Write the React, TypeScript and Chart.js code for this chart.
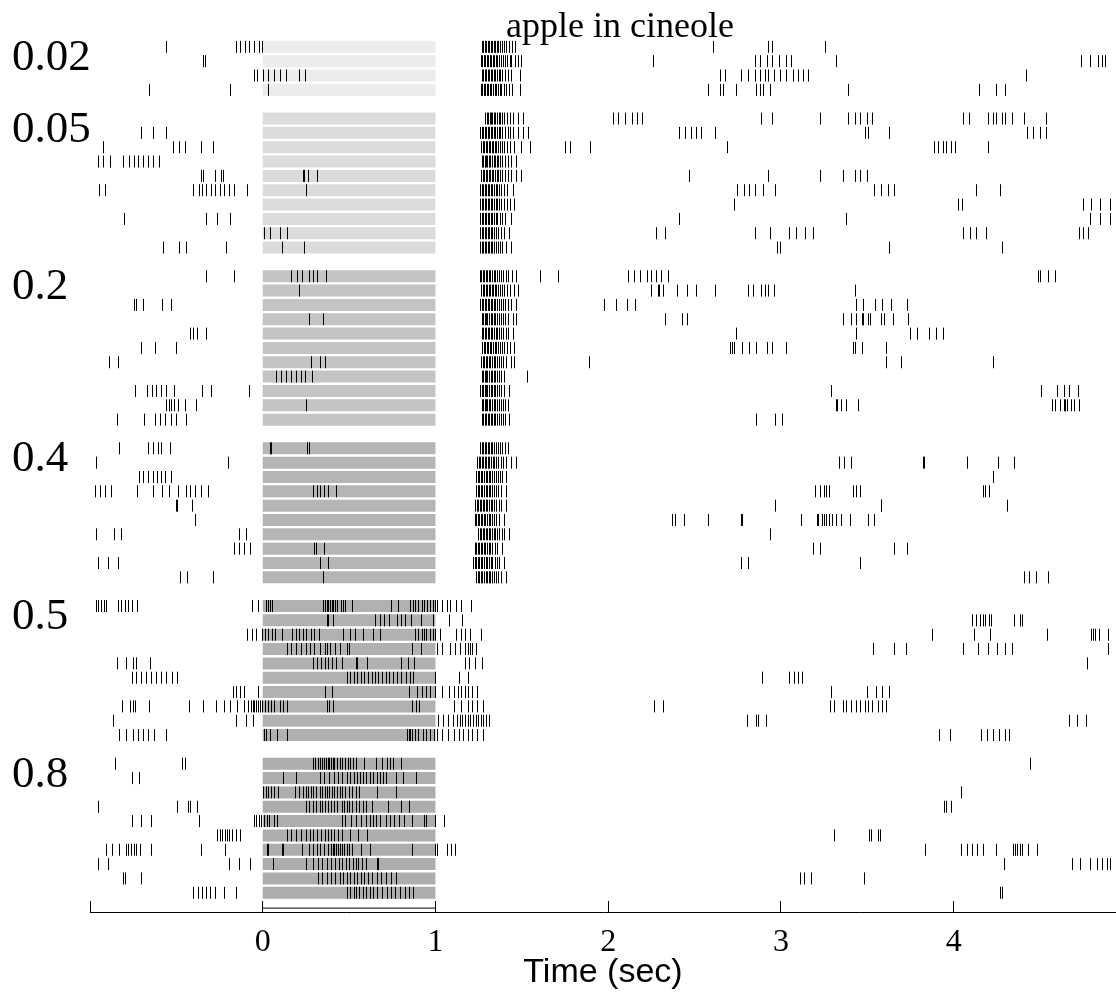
import React, { useEffect, useRef } from "react";
import { Chart, registerables } from "chart.js";

Chart.register(...registerables);

// ---------------- data ----------------
const chartTitle = "apple in cineole";
const xAxisTitle = "Time (sec)";
const concentrations = ["0.02", "0.05", "0.2", "0.4", "0.5", "0.8"];
const stimulusWindow = [0, 1];
const xTickValues = [-1, 0, 1, 2, 3, 4];
const xTickLabelled = [0, 1, 2, 3, 4];

// spike times (s) per trial, group 0.02
const spikes002: number[][] = [
  [-0.555, -0.153, -0.129, -0.102, -0.078, -0.047, -0.02, 0.0, 1.272, 1.281, 1.289, 1.298, 1.306, 1.315, 1.323, 1.332, 1.341, 1.35, 1.358, 1.367, 1.377, 1.388, 1.399, 1.412, 1.428, 1.445, 1.462, 2.61, 2.93, 2.95, 3.26],
  [-0.341, -0.331, 1.265, 1.274, 1.283, 1.291, 1.3, 1.309, 1.317, 1.326, 1.335, 1.344, 1.353, 1.362, 1.371, 1.381, 1.392, 1.404, 1.418, 1.432, 1.441, 1.462, 1.481, 1.497, 2.26, 2.85, 2.88, 2.92, 2.95, 2.99, 3.03, 3.06, 3.32, 4.74, 4.79, 4.84, 4.86, 4.88],
  [-0.05, -0.03, 0.005, 0.035, 0.067, 0.1, 0.135, 0.215, 0.25, 1.272, 1.28, 1.289, 1.297, 1.306, 1.314, 1.323, 1.331, 1.34, 1.349, 1.358, 1.368, 1.379, 1.391, 1.404, 1.421, 1.44, 1.49, 2.65, 2.68, 2.77, 2.81, 2.85, 2.88, 2.91, 2.93, 2.96, 3.0, 3.03, 3.07, 3.1, 3.13, 3.16, 4.42],
  [-0.657, -0.188, 0.035, 1.266, 1.275, 1.283, 1.292, 1.3, 1.309, 1.318, 1.327, 1.336, 1.345, 1.354, 1.364, 1.374, 1.385, 1.397, 1.41, 1.426, 1.448, 1.49, 2.58, 2.65, 2.67, 2.74, 2.86, 2.88, 2.9, 2.94, 3.39, 4.15, 4.25, 4.3],
];

// group 0.05
const spikes005: number[][] = [
  [1.29, 1.299, 1.307, 1.316, 1.324, 1.333, 1.341, 1.35, 1.359, 1.368, 1.378, 1.389, 1.401, 1.415, 1.432, 1.45, 1.478, 1.51, 2.03, 2.06, 2.1, 2.14, 2.17, 2.2, 2.89, 2.95, 3.23, 3.39, 3.43, 3.46, 3.5, 3.53, 4.06, 4.09, 4.2, 4.23, 4.25, 4.28, 4.3, 4.34, 4.41, 4.54],
  [-0.704, -0.633, -0.555, 1.262, 1.271, 1.279, 1.288, 1.296, 1.305, 1.313, 1.322, 1.331, 1.34, 1.349, 1.358, 1.368, 1.379, 1.391, 1.405, 1.42, 1.436, 1.452, 1.48, 1.51, 1.54, 2.41, 2.45, 2.48, 2.51, 2.54, 2.62, 3.49, 3.51, 3.63, 4.43, 4.46, 4.5, 4.54],
  [-0.922, -0.514, -0.48, -0.449, -0.357, -0.286, 1.268, 1.276, 1.285, 1.293, 1.302, 1.31, 1.319, 1.328, 1.337, 1.346, 1.355, 1.365, 1.376, 1.388, 1.401, 1.416, 1.434, 1.455, 1.5, 1.55, 1.75, 1.78, 1.9, 2.69, 3.89, 3.91, 3.94, 3.96, 3.99, 4.01, 4.2],
  [-0.953, -0.922, -0.882, -0.806, -0.771, -0.745, -0.718, -0.69, -0.663, -0.633, -0.596, 1.27, 1.278, 1.287, 1.295, 1.304, 1.312, 1.321, 1.33, 1.339, 1.348, 1.357, 1.367, 1.378, 1.39, 1.404, 1.42, 1.44, 1.47],
  [-0.357, -0.341, -0.276, -0.239, -0.229, 0.235, 0.24, 0.264, 0.316, 1.268, 1.277, 1.285, 1.294, 1.303, 1.311, 1.32, 1.329, 1.338, 1.347, 1.357, 1.367, 1.378, 1.39, 1.404, 1.421, 1.44, 1.47, 1.5, 2.47, 2.93, 3.23, 3.36, 3.43, 3.46, 3.5],
  [-0.943, -0.908, -0.398, -0.367, -0.347, -0.327, -0.296, -0.276, -0.245, -0.22, -0.194, -0.163, -0.086, 0.251, 1.262, 1.271, 1.279, 1.288, 1.297, 1.305, 1.314, 1.323, 1.332, 1.341, 1.351, 1.361, 1.372, 1.384, 1.398, 1.418, 1.45, 2.75, 2.79, 2.82, 2.85, 2.9, 2.97, 3.54, 3.58, 3.62, 3.66, 4.13, 4.27],
  [1.263, 1.272, 1.28, 1.289, 1.297, 1.306, 1.315, 1.324, 1.333, 1.342, 1.352, 1.362, 1.373, 1.385, 1.399, 1.415, 1.432, 1.46, 2.73, 4.03, 4.05, 4.75, 4.8, 4.85, 4.91],
  [-0.802, -0.327, -0.259, -0.188, 1.262, 1.271, 1.279, 1.288, 1.296, 1.305, 1.314, 1.323, 1.332, 1.341, 1.351, 1.362, 1.374, 1.388, 1.405, 1.44, 2.41, 3.38, 4.79, 4.85, 4.91],
  [0.01, 0.047, 0.102, 0.143, 1.262, 1.27, 1.279, 1.287, 1.296, 1.305, 1.314, 1.323, 1.333, 1.343, 1.354, 1.366, 1.38, 1.398, 1.43, 2.28, 2.33, 2.85, 2.94, 3.05, 3.09, 3.14, 3.19, 4.06, 4.1, 4.13, 4.19, 4.73, 4.75, 4.78],
  [-0.576, -0.48, -0.443, -0.208, 0.112, 0.241, 1.263, 1.272, 1.28, 1.289, 1.297, 1.306, 1.315, 1.324, 1.333, 1.343, 1.353, 1.364, 1.376, 1.39, 1.41, 1.44, 2.98, 3.0, 3.63, 4.28],
];

// group 0.2
const spikes02: number[][] = [
  [-0.327, -0.163, 0.169, 0.204, 0.231, 0.271, 0.292, 0.316, 0.367, 1.26, 1.269, 1.277, 1.286, 1.294, 1.303, 1.312, 1.321, 1.33, 1.339, 1.348, 1.358, 1.369, 1.381, 1.395, 1.41, 1.425, 1.445, 1.47, 1.61, 1.71, 2.12, 2.15, 2.19, 2.23, 2.25, 2.28, 2.31, 2.35, 4.49, 4.5, 4.55, 4.59],
  [0.21, 1.268, 1.277, 1.285, 1.294, 1.302, 1.311, 1.32, 1.329, 1.338, 1.347, 1.356, 1.366, 1.377, 1.389, 1.402, 1.418, 1.432, 1.46, 1.48, 2.25, 2.29, 2.3, 2.32, 2.4, 2.46, 2.51, 2.62, 2.81, 2.84, 2.89, 2.91, 2.93, 2.96, 3.43],
  [-0.745, -0.729, -0.69, -0.582, -0.527, 1.262, 1.27, 1.279, 1.287, 1.296, 1.305, 1.313, 1.322, 1.331, 1.34, 1.349, 1.359, 1.369, 1.38, 1.392, 1.405, 1.42, 1.44, 1.47, 1.98, 2.05, 2.11, 2.16, 3.44, 3.48, 3.55, 3.59, 3.64, 3.73],
  [0.271, 0.353, 1.27, 1.278, 1.287, 1.295, 1.304, 1.313, 1.322, 1.331, 1.34, 1.349, 1.359, 1.369, 1.38, 1.393, 1.408, 1.422, 1.45, 1.47, 2.33, 2.43, 2.46, 3.36, 3.41, 3.44, 3.47, 3.48, 3.51, 3.52, 3.58, 3.6, 3.65, 3.74],
  [-0.418, -0.398, -0.378, -0.327, 1.272, 1.28, 1.289, 1.297, 1.306, 1.315, 1.324, 1.333, 1.342, 1.351, 1.361, 1.371, 1.382, 1.395, 1.41, 1.425, 1.45, 2.74, 3.44, 3.75, 3.79, 3.86, 3.9, 3.94],
  [-0.704, -0.622, -0.5, 1.275, 1.283, 1.292, 1.3, 1.309, 1.318, 1.327, 1.336, 1.345, 1.355, 1.365, 1.376, 1.388, 1.402, 1.418, 1.432, 1.46, 2.71, 2.72, 2.73, 2.78, 2.82, 2.86, 2.92, 2.95, 3.03, 3.42, 3.43, 3.47, 3.61],
  [-0.888, -0.837, 0.282, 0.333, 0.361, 1.268, 1.277, 1.285, 1.294, 1.303, 1.312, 1.321, 1.33, 1.339, 1.349, 1.359, 1.37, 1.382, 1.396, 1.412, 1.44, 1.46, 1.89, 3.61, 3.7, 4.23],
  [0.078, 0.108, 0.139, 0.169, 0.194, 0.224, 0.245, 0.286, 1.27, 1.278, 1.287, 1.295, 1.304, 1.313, 1.322, 1.331, 1.34, 1.35, 1.36, 1.371, 1.384, 1.4, 1.53],
  [-0.735, -0.667, -0.639, -0.616, -0.588, -0.557, -0.51, -0.347, -0.296, -0.078, 1.262, 1.27, 1.279, 1.287, 1.296, 1.304, 1.313, 1.322, 1.331, 1.34, 1.349, 1.359, 1.37, 1.382, 1.398, 1.43, 3.29, 4.51, 4.6, 4.64, 4.67, 4.72],
  [-0.557, -0.541, -0.527, -0.51, -0.49, -0.449, -0.382, 0.251, 1.27, 1.278, 1.287, 1.295, 1.304, 1.312, 1.321, 1.33, 1.339, 1.348, 1.358, 1.368, 1.38, 1.394, 1.405, 1.42, 3.32, 3.33, 3.35, 3.38, 3.45, 4.57, 4.59, 4.62, 4.64, 4.65, 4.66, 4.68, 4.7, 4.73],
  [-0.843, -0.684, -0.622, -0.592, -0.561, -0.531, -0.5, -0.443, 1.272, 1.28, 1.289, 1.297, 1.306, 1.314, 1.323, 1.332, 1.341, 1.35, 1.36, 1.37, 1.381, 1.394, 1.405, 1.43, 2.86, 2.97, 3.01],
];

// group 0.4
const spikes04: number[][] = [
  [-0.831, -0.663, -0.633, -0.606, -0.586, -0.535, 0.045, 0.051, 0.262, 0.27, 1.262, 1.27, 1.279, 1.288, 1.297, 1.306, 1.315, 1.324, 1.333, 1.343, 1.353, 1.364, 1.376, 1.39, 1.405, 1.42],
  [-0.965, -0.198, 1.245, 1.254, 1.262, 1.271, 1.28, 1.288, 1.297, 1.306, 1.315, 1.324, 1.334, 1.344, 1.355, 1.367, 1.381, 1.396, 1.41, 1.44, 1.47, 3.34, 3.37, 3.41, 3.825, 3.832, 4.08, 4.26, 4.35],
  [-0.714, -0.688, -0.663, -0.633, -0.608, -0.586, -0.561, -0.527, 1.24, 1.249, 1.257, 1.266, 1.275, 1.284, 1.293, 1.302, 1.311, 1.32, 1.33, 1.34, 1.351, 1.363, 1.377, 1.39, 1.41, 4.23],
  [-0.969, -0.939, -0.908, -0.878, -0.724, -0.633, -0.578, -0.541, -0.49, -0.443, -0.418, -0.388, -0.357, -0.316, 0.292, 0.316, 0.337, 0.357, 0.378, 0.429, 1.24, 1.249, 1.257, 1.266, 1.275, 1.284, 1.293, 1.302, 1.311, 1.321, 1.331, 1.342, 1.354, 1.367, 1.38, 1.41, 3.2, 3.23, 3.25, 3.265, 3.28, 3.42, 3.44, 3.46, 4.17, 4.185, 4.21],
  [-0.5, -0.496, -0.404, 1.232, 1.241, 1.249, 1.258, 1.267, 1.276, 1.285, 1.294, 1.303, 1.312, 1.322, 1.332, 1.343, 1.355, 1.368, 1.38, 1.41, 2.97, 3.58, 3.585, 4.31],
  [-0.388, 1.23, 1.239, 1.247, 1.256, 1.265, 1.274, 1.283, 1.292, 1.301, 1.31, 1.32, 1.33, 1.341, 1.353, 1.37, 1.4, 2.37, 2.39, 2.44, 2.58, 2.77, 2.775, 3.12, 3.21, 3.22, 3.24, 3.25, 3.265, 3.28, 3.3, 3.32, 3.35, 3.4, 3.51, 3.54],
  [-0.965, -0.857, -0.816, -0.137, -0.092, 1.25, 1.259, 1.267, 1.276, 1.285, 1.294, 1.303, 1.312, 1.321, 1.33, 1.34, 1.35, 1.361, 1.373, 1.387, 1.4, 1.43, 2.94],
  [-0.163, -0.137, -0.106, -0.071, 0.3, 0.312, 0.357, 1.23, 1.239, 1.247, 1.256, 1.265, 1.274, 1.283, 1.292, 1.301, 1.311, 1.321, 1.332, 1.345, 1.36, 1.39, 3.19, 3.23, 3.66, 3.73],
  [-0.949, -0.892, -0.837, 0.333, 0.378, 1.222, 1.231, 1.239, 1.248, 1.257, 1.266, 1.275, 1.284, 1.293, 1.302, 1.312, 1.322, 1.333, 1.346, 1.36, 1.372, 1.4, 2.77, 2.81, 3.46],
  [-0.476, -0.435, -0.286, 0.353, 1.24, 1.249, 1.257, 1.266, 1.275, 1.284, 1.293, 1.302, 1.311, 1.32, 1.33, 1.34, 1.351, 1.364, 1.38, 1.41, 4.41, 4.44, 4.48, 4.55],
];

// group 0.5
const spikes05: number[][] = [
  [-0.965, -0.949, -0.933, -0.918, -0.902, -0.837, -0.816, -0.796, -0.776, -0.755, -0.724, -0.057, -0.027, 0.02, 0.035, 0.045, 0.055, 0.353, 0.363, 0.373, 0.382, 0.392, 0.402, 0.412, 0.424, 0.435, 0.455, 0.469, 0.48, 0.52, 0.745, 0.786, 0.857, 0.871, 0.884, 0.904, 0.924, 0.939, 0.953, 0.969, 0.986, 1.0, 1.014, 1.041, 1.067, 1.088, 1.122, 1.153, 1.21],
  [0.373, 0.382, 0.412, 0.653, 0.68, 0.704, 0.735, 0.782, 0.806, 0.827, 0.863, 0.918, 0.986, 1.082, 1.157, 4.109, 4.134, 4.155, 4.171, 4.186, 4.206, 4.222, 4.35, 4.387, 4.401],
  [-0.086, -0.061, -0.035, 0.0, 0.014, 0.035, 0.055, 0.076, 0.112, 0.173, 0.194, 0.214, 0.235, 0.255, 0.28, 0.3, 0.327, 0.469, 0.51, 0.537, 0.582, 0.639, 0.68, 0.884, 0.904, 0.924, 0.939, 0.949, 0.969, 0.986, 1.0, 1.031, 1.122, 1.153, 1.173, 1.204, 1.265, 3.877, 4.12, 4.212, 4.541, 4.801, 4.812, 4.822, 4.843, 4.894],
  [0.143, 0.169, 0.198, 0.224, 0.251, 0.276, 0.3, 0.333, 0.361, 0.373, 0.394, 0.422, 0.449, 0.49, 0.5, 0.867, 0.918, 1.014, 1.041, 1.088, 1.116, 1.143, 1.173, 1.19, 1.204, 1.214, 1.235, 3.534, 3.655, 3.727, 4.058, 4.144, 4.202, 4.253, 4.302, 4.339, 4.894],
  [-0.843, -0.79, -0.749, -0.729, -0.647, 0.292, 0.316, 0.341, 0.361, 0.382, 0.402, 0.429, 0.463, 0.541, 0.551, 0.606, 0.802, 0.843, 0.878, 1.173, 1.198, 1.231, 1.271, 4.777],
  [-0.755, -0.729, -0.7, -0.673, -0.643, -0.616, -0.588, -0.557, -0.524, -0.494, 0.49, 0.51, 0.531, 0.551, 0.571, 0.592, 0.612, 0.633, 0.653, 0.673, 0.694, 0.714, 0.735, 0.755, 0.782, 0.806, 0.831, 0.857, 0.871, 1.0, 1.137, 1.19, 2.895, 3.052, 3.076, 3.101, 3.127],
  [-0.167, -0.153, -0.129, -0.106, -0.027, 0.361, 0.402, 0.847, 0.898, 0.924, 0.949, 0.973, 1.0, 1.041, 1.082, 1.112, 1.133, 1.153, 1.173, 1.194, 1.214, 1.245, 3.292, 3.501, 3.555, 3.59, 3.627],
  [-0.81, -0.765, -0.749, -0.735, -0.653, -0.422, -0.341, -0.265, -0.224, -0.184, -0.147, -0.106, -0.082, -0.067, -0.055, -0.045, -0.035, -0.027, -0.014, 0.0, 0.014, 0.035, 0.051, 0.071, 0.102, 0.122, 0.143, 0.373, 0.388, 0.408, 0.867, 0.888, 0.908, 1.112, 1.153, 1.19, 1.214, 1.245, 1.28, 2.271, 2.322, 3.286, 3.312, 3.364, 3.378, 3.411, 3.436, 3.462, 3.487, 3.508, 3.528, 3.565, 3.586, 3.614],
  [-0.863, -0.149, -0.092, -0.055, 1.02, 1.047, 1.076, 1.102, 1.129, 1.143, 1.157, 1.173, 1.19, 1.204, 1.218, 1.235, 1.251, 1.265, 1.28, 1.296, 1.312, 2.805, 2.86, 2.871, 2.918, 4.668, 4.715, 4.767],
  [-0.827, -0.786, -0.749, -0.718, -0.688, -0.663, -0.627, -0.555, 0.01, 0.02, 0.047, 0.088, 0.143, 0.837, 0.847, 0.857, 0.867, 0.884, 0.904, 0.929, 0.949, 0.969, 0.994, 1.014, 1.041, 1.076, 1.108, 1.137, 1.163, 1.19, 1.214, 1.245, 1.276, 3.918, 3.98, 4.161, 4.196, 4.231, 4.268, 4.298, 4.325],
];

// group 0.8
const spikes08: number[][] = [
  [-0.851, -0.463, -0.449, 0.292, 0.306, 0.32, 0.333, 0.347, 0.357, 0.367, 0.378, 0.388, 0.398, 0.408, 0.418, 0.435, 0.449, 0.463, 0.48, 0.496, 0.51, 0.524, 0.541, 0.592, 0.659, 0.694, 0.724, 0.741, 0.755, 0.802, 4.446],
  [-0.755, -0.714, 0.122, 0.198, 0.333, 0.357, 0.388, 0.414, 0.439, 0.463, 0.49, 0.51, 0.531, 0.551, 0.565, 0.582, 0.602, 0.622, 0.643, 0.663, 0.68, 0.7, 0.714, 0.776, 0.816, 0.888],
  [0.006, 0.02, 0.035, 0.051, 0.067, 0.092, 0.19, 0.21, 0.235, 0.251, 0.265, 0.28, 0.296, 0.312, 0.333, 0.347, 0.361, 0.373, 0.388, 0.402, 0.418, 0.435, 0.449, 0.463, 0.48, 0.5, 0.52, 0.541, 0.561, 0.667, 0.776, 4.048],
  [-0.953, -0.496, -0.429, -0.418, -0.378, 0.251, 0.271, 0.296, 0.312, 0.333, 0.347, 0.361, 0.382, 0.398, 0.414, 0.435, 0.463, 0.475, 0.49, 0.504, 0.52, 0.541, 0.561, 0.582, 0.602, 0.633, 0.729, 0.806, 0.847, 3.949, 3.959, 3.99],
  [-0.755, -0.7, -0.643, -0.367, -0.047, -0.035, -0.02, -0.006, 0.01, 0.027, 0.041, 0.067, 0.088, 0.463, 0.48, 0.516, 0.541, 0.571, 0.598, 0.622, 0.639, 0.659, 0.684, 0.714, 0.741, 0.765, 0.79, 0.822, 0.867, 0.939, 0.949, 1.0, 1.051],
  [-0.259, -0.245, -0.231, -0.218, -0.204, -0.19, -0.173, -0.153, -0.129, 0.143, 0.169, 0.194, 0.224, 0.251, 0.276, 0.296, 0.316, 0.341, 0.361, 0.378, 0.398, 0.418, 0.439, 0.463, 0.51, 0.557, 0.606, 3.312, 3.512, 3.524, 3.565, 3.579],
  [-0.904, -0.867, -0.827, -0.79, -0.776, -0.761, -0.745, -0.729, -0.708, -0.643, -0.357, -0.214, 0.027, 0.035, 0.112, 0.122, 0.231, 0.271, 0.292, 0.316, 0.337, 0.357, 0.378, 0.398, 0.408, 0.418, 0.429, 0.439, 0.449, 0.459, 0.475, 0.49, 0.504, 0.52, 0.571, 0.622, 0.867, 1.0, 1.014, 1.067, 1.092, 1.118, 3.836, 4.048, 4.079, 4.109, 4.138, 4.171, 4.251, 4.345, 4.36, 4.37, 4.387, 4.401, 4.432, 4.483],
  [-0.953, -0.892, -0.194, -0.137, -0.071, 0.061, 0.251, 0.296, 0.32, 0.347, 0.373, 0.398, 0.422, 0.443, 0.463, 0.484, 0.504, 0.524, 0.541, 0.557, 0.578, 0.602, 0.663, 0.673, 4.294, 4.689, 4.736, 4.791, 4.832, 4.863, 4.89, 4.91],
  [-0.806, -0.796, -0.704, 0.32, 0.347, 0.373, 0.398, 0.422, 0.449, 0.469, 0.49, 0.51, 0.531, 0.551, 0.571, 0.592, 0.612, 0.633, 0.663, 0.688, 0.714, 0.745, 0.776, 3.111, 3.138, 3.179, 3.483],
  [-0.398, -0.373, -0.351, -0.327, -0.3, -0.276, -0.224, -0.153, 0.49, 0.51, 0.531, 0.541, 0.561, 0.582, 0.602, 0.622, 0.643, 0.667, 0.694, 0.72, 0.745, 0.769, 0.796, 0.827, 0.851, 0.871, 4.274, 4.282],
];

// ---------------- styles / layout ----------------
const barColors = ["#ececec", "#dbdbdb", "#c4c4c4", "#b5b5b5", "#b1b1b1", "#adadad"];
const SERIF = "'Liberation Serif', 'Times New Roman', serif";
const SANS = "'Liberation Sans', Arial, sans-serif";

export default function App() {
  const ref = useRef<HTMLCanvasElement>(null);

  useEffect(() => {
    const groups = [spikes002, spikes005, spikes02, spikes04, spikes05, spikes08];
    const groupStart: number[] = [];
    let r = 0;
    groups.forEach((g) => {
      groupStart.push(r);
      r += g.length + 1;
    });
    const lastRow = r - 2;

    const spikePoints: { x: number; y: number }[] = [];
    groups.forEach((g, gi) =>
      g.forEach((trial, ti) =>
        trial.forEach((t) => spikePoints.push({ x: t, y: groupStart[gi] + ti }))
      )
    );

    const barDatasets = groups.map((g, gi) => ({
      type: "line" as const,
      data: g.flatMap((_, ti) => [
        { x: stimulusWindow[0], y: groupStart[gi] + ti },
        { x: stimulusWindow[1], y: groupStart[gi] + ti },
        { x: stimulusWindow[1], y: null as any },
      ]),
      borderColor: barColors[gi],
      borderWidth: 12,
      borderCapStyle: "butt" as const,
      pointRadius: 0,
      spanGaps: false,
      fill: false,
      tension: 0,
      order: 2,
    }));

    const stimY = lastRow + 1.07;

    const overlayTitle = {
      id: "overlayTitle",
      afterDraw(chart: any) {
        const ctx = chart.ctx;
        ctx.save();
        ctx.font = `36px ${SERIF}`;
        ctx.fillStyle = "#000";
        ctx.textAlign = "center";
        ctx.textBaseline = "alphabetic";
        ctx.fillText(chartTitle, 620, 37);
        ctx.restore();
      },
    };

    // snap spike ticks to the pixel grid so 1px lines render crisp
    const crispSpikes = {
      id: "crispSpikes",
      beforeDatasetsDraw(chart: any) {
        const meta = chart.getDatasetMeta(0);
        meta.data.forEach((el: any) => {
          el.x = Math.round(el.x - 0.5) + 0.5;
        });
      },
    };

    const chart = new Chart(ref.current!, {
      type: "scatter",
      data: {
        datasets: [
          {
            type: "scatter",
            data: spikePoints,
            pointStyle: "line",
            rotation: 90,
            pointRadius: 6,
            pointBorderWidth: 1,
            pointBorderColor: "#000",
            pointBackgroundColor: "#000",
            order: 0,
          } as any,
          ...barDatasets,
          {
            type: "line",
            data: [
              { x: stimulusWindow[0], y: stimY },
              { x: stimulusWindow[1], y: stimY },
            ],
            borderColor: "#000",
            borderWidth: 1,
            pointRadius: 0,
            order: 1,
          },
        ],
      },
      options: {
        animation: false,
        responsive: false,
        devicePixelRatio: 1,
        events: [],
        layout: { autoPadding: false, padding: { left: 12, top: 20, right: 0, bottom: 0 } },
        plugins: {
          legend: { display: false },
          tooltip: { enabled: false },
          title: { display: false },
        },
        scales: {
          x: {
            type: "linear",
            min: -1,
            max: 4.94,
            afterBuildTicks: (s: any) => {
              s.ticks = xTickValues.map((v) => ({ value: v }));
            },
            afterFit: (s: any) => {
              s.height = 93;
            },
            grid: {
              display: true,
              drawOnChartArea: false,
              drawTicks: true,
              tickLength: -11,
              color: "#000",
              lineWidth: 1,
            },
            border: { display: true, color: "#000", width: 1 },
            ticks: {
              autoSkip: false,
              maxRotation: 0,
              padding: 22,
              color: "#000",
              font: { family: SERIF, size: 32 },
              callback: (v: any) => (xTickLabelled.includes(Number(v)) ? String(v) : ""),
            },
            title: {
              display: true,
              text: xAxisTitle,
              color: "#000",
              font: { family: SANS, size: 34 },
              padding: { top: 0, bottom: 12 },
            },
          },
          y: {
            type: "linear",
            reverse: true,
            min: -1.384,
            max: 60.34,
            afterBuildTicks: (s: any) => {
              s.ticks = groupStart.map((g) => ({ value: g + 0.78 }));
            },
            afterFit: (s: any) => {
              s.width = 78;
            },
            grid: { display: false },
            border: { display: false },
            ticks: {
              autoSkip: false,
              crossAlign: "far",
              padding: 0,
              color: "#000",
              font: { family: SERIF, size: 45 },
              callback: (_v: any, i: number) => concentrations[i],
            },
          },
        },
      } as any,
      plugins: [overlayTitle, crispSpikes],
    });
    return () => chart.destroy();
  }, []);

  return (
    <div style={{ position: "absolute", left: 0, top: 0, width: 1116, height: 1005 }}>
      <canvas ref={ref} width={1116} height={1005} style={{ display: "block", width: 1116, height: 1005 }} />
    </div>
  );
}
